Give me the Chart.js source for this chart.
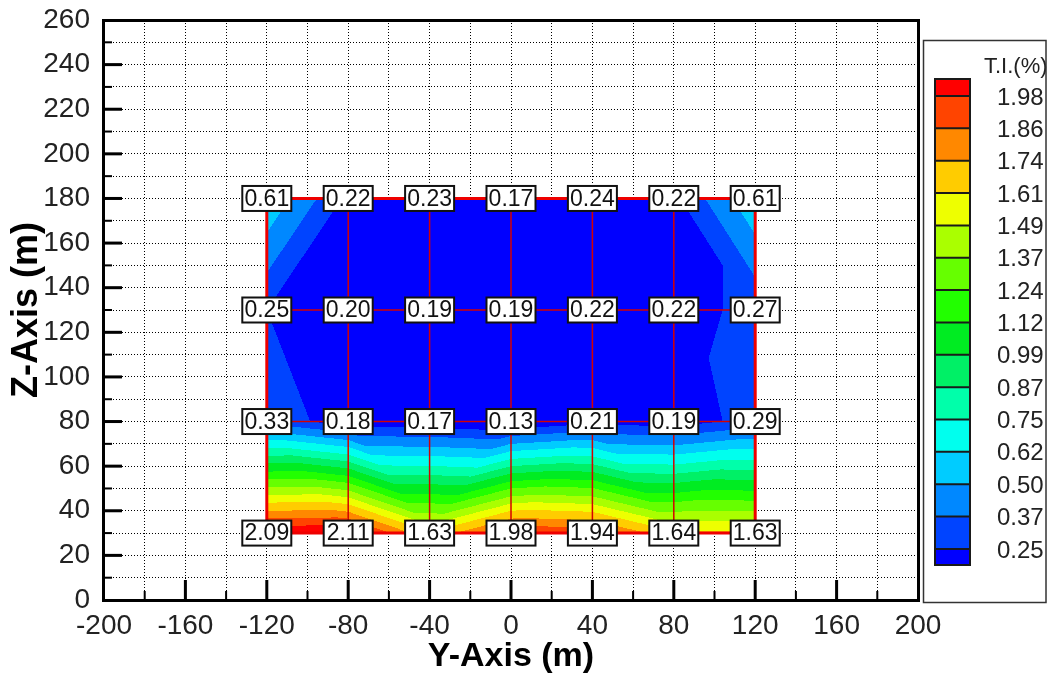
<!DOCTYPE html>
<html>
<head>
  <title>T.I. contour</title>
  <script src="https://cdn.jsdelivr.net/npm/chart.js@4.4.1/dist/chart.umd.min.js"></script>
  <style>
    body { margin: 0; background: #fff; }
    #wrap { width: 1049px; height: 681px; }
  </style>
</head>
<body>
<div id="wrap"><canvas id="tiChart" width="1049" height="681"></canvas></div>

<script>
// measurement grid
const yPositions = [-120, -80, -40, 0, 40, 80, 120];
const zLevels = [30, 80, 130, 180];

// turbulence intensity (%) at each grid row
const tiZ30 = [2.09, 2.11, 1.63, 1.98, 1.94, 1.64, 1.63];
const tiZ80 = [0.33, 0.18, 0.17, 0.13, 0.21, 0.19, 0.29];
const tiZ130 = [0.25, 0.20, 0.19, 0.19, 0.22, 0.22, 0.27];
const tiZ180 = [0.61, 0.22, 0.23, 0.17, 0.24, 0.22, 0.61];
const tiRows = [tiZ30, tiZ80, tiZ130, tiZ180];

// contour levels and flood colours (lowest band first)
const contourLevels = [0.25, 0.37, 0.50, 0.62, 0.75, 0.87, 0.99, 1.12, 1.24, 1.37, 1.49, 1.61, 1.74, 1.86, 1.98];
const contourColors = ['#0000ff', '#0044ff', '#0088ff', '#00ccff', '#00ffee', '#00ffaa', '#00f066', '#00ec22',
                       '#22ff00', '#66ff00', '#aaff00', '#eeff00', '#ffcc00', '#ff8800', '#ff4400', '#ff0000'];
const legendLabels = ['1.98', '1.86', '1.74', '1.61', '1.49', '1.37', '1.24', '1.12', '0.99', '0.87', '0.75', '0.62', '0.50', '0.37', '0.25'];

const FONT = "'Liberation Sans', Arial, sans-serif";
Chart.defaults.font.family = FONT;

function hexToRgb(h) {
  return [parseInt(h.substr(1, 2), 16), parseInt(h.substr(3, 2), 16), parseInt(h.substr(5, 2), 16)];
}
const contourRgb = contourColors.map(hexToRgb);

// linear value on the two triangles of each grid cell;
// the diagonal cuts off the corner that stands out most
function tiAt(y, z) {
  let i = 0;
  while (i < yPositions.length - 2 && y > yPositions[i + 1]) i++;
  let j = 0;
  while (j < zLevels.length - 2 && z > zLevels[j + 1]) j++;
  const s = (y - yPositions[i]) / (yPositions[i + 1] - yPositions[i]);
  const t = (z - zLevels[j]) / (zLevels[j + 1] - zLevels[j]);
  const a = tiRows[j][i], b = tiRows[j][i + 1];       // bottom-left, bottom-right
  const c = tiRows[j + 1][i], d = tiRows[j + 1][i + 1]; // top-left, top-right
  const mean = (a + b + c + d) / 4;
  const devAD = Math.max(Math.abs(a - mean), Math.abs(d - mean));
  const devBC = Math.max(Math.abs(b - mean), Math.abs(c - mean));
  if (devAD >= devBC) {
    // diagonal b-c
    if (s + t <= 1) return a + (b - a) * s + (c - a) * t;
    return d + (c - d) * (1 - s) + (b - d) * (1 - t);
  }
  // diagonal a-d
  if (s >= t) return b + (a - b) * (1 - s) + (d - b) * t;
  return c + (d - c) * s + (a - c) * (1 - t);
}

function bandOf(v) {
  let k = 0;
  while (k < contourLevels.length && v >= contourLevels[k]) k++;
  return k;
}

// flooded contours under the mesh lines
const contourFill = {
  id: 'contourFill',
  beforeDatasetsDraw(chart) {
    const { ctx, scales: { x, y } } = chart;
    const left = Math.round(x.getPixelForValue(yPositions[0]));
    const right = Math.round(x.getPixelForValue(yPositions[yPositions.length - 1]));
    const top = Math.round(y.getPixelForValue(zLevels[zLevels.length - 1]));
    const bottom = Math.round(y.getPixelForValue(zLevels[0]));
    const w = right - left, h = bottom - top;
    const off = document.createElement('canvas');
    off.width = w; off.height = h;
    const octx = off.getContext('2d');
    const img = octx.createImageData(w, h);
    for (let py = 0; py < h; py++) {
      const z = y.getValueForPixel(top + py + 0.5);
      for (let px = 0; px < w; px++) {
        const yy = x.getValueForPixel(left + px + 0.5);
        const rgb = contourRgb[bandOf(tiAt(yy, z))];
        const o = (py * w + px) * 4;
        img.data[o] = rgb[0]; img.data[o + 1] = rgb[1]; img.data[o + 2] = rgb[2]; img.data[o + 3] = 255;
      }
    }
    octx.putImageData(img, 0, 0);
    ctx.drawImage(off, left, top);
  }
};

// value boxes at every grid node
const nodeLabels = {
  id: 'nodeLabels',
  afterDatasetsDraw(chart) {
    const { ctx, scales: { x, y } } = chart;
    ctx.save();
    ctx.font = '23px ' + FONT;
    ctx.textAlign = 'center';
    ctx.textBaseline = 'middle';
    tiRows.forEach((row, j) => {
      row.forEach((v, i) => {
        const cx = x.getPixelForValue(yPositions[i]);
        const cy = y.getPixelForValue(zLevels[j]);
        ctx.fillStyle = '#fff';
        ctx.fillRect(cx - 24.5, cy - 12.5, 49, 25);
        ctx.strokeStyle = '#111';
        ctx.lineWidth = 2;
        ctx.strokeRect(cx - 24.5, cy - 12.5, 49, 25);
        ctx.fillStyle = '#111';
        ctx.fillText(v.toFixed(2), cx, cy + 1);
      });
    });
    ctx.restore();
  }
};

// plot frame, inward ticks and colour legend
const frameAndLegend = {
  id: 'frameAndLegend',
  afterDraw(chart) {
    const { ctx, chartArea: a, scales: { x, y } } = chart;
    ctx.save();
    ctx.fillStyle = '#000';
    for (let v = 10; v < 260; v += 10) {
      const p = y.getPixelForValue(v);
      if (v % 20 === 0) ctx.fillRect(a.left, p - 1.5, 18, 3);
      else ctx.fillRect(a.left, p - 1, 8, 2);
    }
    for (let v = -180; v < 200; v += 20) {
      const p = x.getPixelForValue(v);
      if (v % 40 === 0) ctx.fillRect(p - 1.5, a.bottom - 20, 3, 20);
      else ctx.fillRect(p - 1, a.bottom - 9, 2, 9);
    }
    ctx.fillRect(a.left - 2, a.top - 1, 3, a.bottom - a.top + 3);
    ctx.fillRect(a.left - 2, a.bottom - 1, a.right - a.left + 3, 3);
    ctx.fillRect(a.left - 2, a.top - 1, a.right - a.left + 3, 3);
    ctx.fillRect(a.right - 1, a.top - 1, 3, a.bottom - a.top + 3);

    // legend
    const bx = 935, bw = 35, barTop = 79, first = 96, step = 32.35, barBottom = 565;
    const edges = [barTop];
    for (let k = 0; k < legendLabels.length; k++) edges.push(first + k * step);
    edges.push(barBottom);
    for (let k = 0; k < edges.length - 1; k++) {
      ctx.fillStyle = contourColors[contourColors.length - 1 - k];
      ctx.fillRect(bx, edges[k], bw, edges[k + 1] - edges[k]);
    }
    ctx.strokeStyle = '#1a1a1a';
    ctx.lineWidth = 2;
    for (let k = 1; k < edges.length - 1; k++) {
      ctx.beginPath();
      ctx.moveTo(bx, edges[k]);
      ctx.lineTo(bx + bw, edges[k]);
      ctx.stroke();
    }
    ctx.strokeRect(bx, barTop, bw, barBottom - barTop);

    ctx.fillStyle = '#222';
    ctx.textAlign = 'left';
    ctx.textBaseline = 'middle';
    ctx.font = '24px ' + FONT;
    legendLabels.forEach((t, k) => ctx.fillText(t, 997, first + k * step + 2));
    ctx.font = '22px ' + FONT;
    ctx.fillText('T.I.(%)', 984, 67);

    ctx.strokeStyle = '#333';
    ctx.lineWidth = 1.5;
    ctx.strokeRect(923.5, 40.5, 122.5, 562);
    ctx.restore();
  }
};

// red mesh through the grid nodes
const meshSets = [];
zLevels.forEach((z, j) => {
  const edge = j === 0 || j === zLevels.length - 1;
  meshSets.push({
    data: yPositions.map(v => ({ x: v, y: z })),
    borderColor: edge ? '#ee0000' : '#d40000',
    borderWidth: edge ? 3 : 1.5,
    order: edge ? 0 : 1
  });
});
yPositions.forEach((v, i) => {
  const edge = i === 0 || i === yPositions.length - 1;
  meshSets.push({
    data: zLevels.map(z => ({ x: v, y: z })),
    borderColor: edge ? '#ee0000' : '#d40000',
    borderWidth: edge ? 3 : 1.5,
    order: edge ? 0 : 1
  });
});
meshSets.forEach(ds => {
  ds.showLine = true;
  ds.pointRadius = 0;
  ds.borderCapStyle = 'square';
});

new Chart(document.getElementById('tiChart'), {
  type: 'scatter',
  data: { datasets: meshSets },
  options: {
    responsive: false,
    animation: false,
    layout: { padding: { left: 0, right: 131, top: 20, bottom: 0 } },
    plugins: { legend: { display: false }, tooltip: { enabled: false } },
    scales: {
      x: {
        type: 'linear', min: -200, max: 200,
        afterFit: s => { s.height = 81; s.paddingLeft = 0; s.paddingRight = 0; },
        ticks: {
          stepSize: 20, maxTicksLimit: 100, autoSkip: false, maxRotation: 0,
          padding: 9, color: '#222', font: { size: 28 },
          callback: v => (v % 40 === 0 ? String(v) : '')
        },
        grid: { color: '#000', lineWidth: 1, drawTicks: false },
        border: { display: false, dash: [1, 2] },
        title: { display: true, text: 'Y-Axis (m)', color: '#000', font: { size: 34, weight: 'bold' }, padding: { top: 0, bottom: 4 } }
      },
      y: {
        type: 'linear', min: 0, max: 260,
        afterFit: s => { s.width = 104; s.paddingTop = 0; s.paddingBottom = 0; },
        ticks: {
          stepSize: 10, maxTicksLimit: 100, autoSkip: false,
          padding: 14, color: '#222', font: { size: 28 },
          callback: v => (v % 20 === 0 ? String(v) : '')
        },
        grid: { color: '#000', lineWidth: 1, drawTicks: false },
        border: { display: false, dash: [1, 2] },
        title: { display: true, text: 'Z-Axis (m)', color: '#000', font: { size: 36, weight: 'bold' }, padding: { top: 5, bottom: 0 } }
      }
    }
  },
  plugins: [contourFill, nodeLabels, frameAndLegend]
});
</script>
</body>
</html>
